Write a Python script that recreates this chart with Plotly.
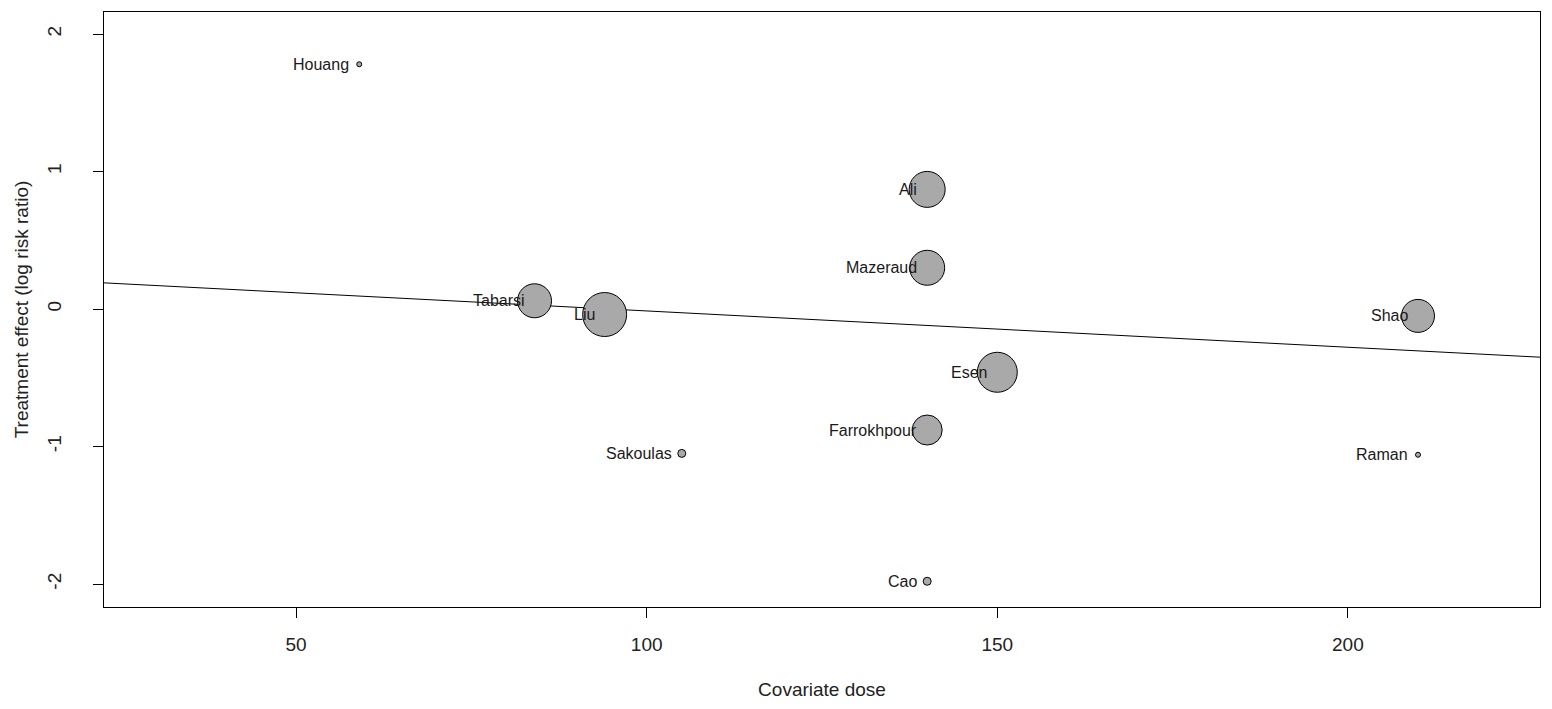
import plotly.graph_objects as go

studies = ["Houang", "Ali", "Mazeraud", "Tabarsi", "Liu", "Shao", "Esen",
           "Farrokhpour", "Sakoulas", "Raman", "Cao"]
dose = [59, 140, 140, 84, 94, 210, 150, 140, 105, 210, 140]
effect = [1.78, 0.87, 0.30, 0.06, -0.04, -0.05, -0.46, -0.88, -1.05, -1.06, -1.98]
weight = [5, 36, 35, 34, 44, 33, 40, 30, 8, 5, 8]

intercept = 0.25
slope = -0.00264
x_range = [22.6, 227.4]
y_range = [-2.167, 2.16]
x_ticks = [50, 100, 150, 200]
y_ticks = [-2, -1, 0, 1, 2]
y_ticklabels = ["-2", "-1", "0", "1", "2"]

font_name = "Liberation Sans, Arial, sans-serif"

fig = go.Figure()

fig.add_trace(go.Scatter(
    x=x_range, y=[intercept + slope * v for v in x_range],
    mode="lines", line=dict(color="black", width=1), hoverinfo="skip",
    showlegend=False))

fig.add_trace(go.Scatter(
    x=dose, y=effect, mode="markers",
    marker=dict(size=weight, color="#A9A9A9",
                line=dict(color="black", width=1), opacity=1),
    text=studies, showlegend=False))

for s, xv, yv in zip(studies, dose, effect):
    fig.add_annotation(x=xv, y=yv, text=s, showarrow=False, xanchor="right",
                       yanchor="middle", xshift=-8,
                       font=dict(family=font_name, size=16, color="#1a1a1a"))

axis_common = dict(showgrid=False, zeroline=False, showline=True, linecolor="black",
                   linewidth=1, mirror=True, ticks="outside", ticklen=10,
                   tickcolor="black", tickwidth=1,
                   tickfont=dict(family=font_name, size=19, color="#222"))

fig.update_xaxes(range=x_range, tickvals=x_ticks, ticklabelstandoff=10,
                 title=dict(text="Covariate dose", standoff=28,
                            font=dict(family=font_name, size=19, color="#222")),
                 **axis_common)
fig.update_yaxes(range=y_range, tickvals=y_ticks, ticktext=y_ticklabels, tickangle=-90,
                 ticklabelstandoff=24,
                 title=dict(text="Treatment effect (log risk ratio)", standoff=10,
                            font=dict(family=font_name, size=19, color="#222")),
                 **axis_common)

fig.update_layout(width=1544, height=701, plot_bgcolor="white", paper_bgcolor="white",
                  margin=dict(l=96, r=12, t=4, b=102),
                  font=dict(family=font_name))

fig.write_html("out.html")
